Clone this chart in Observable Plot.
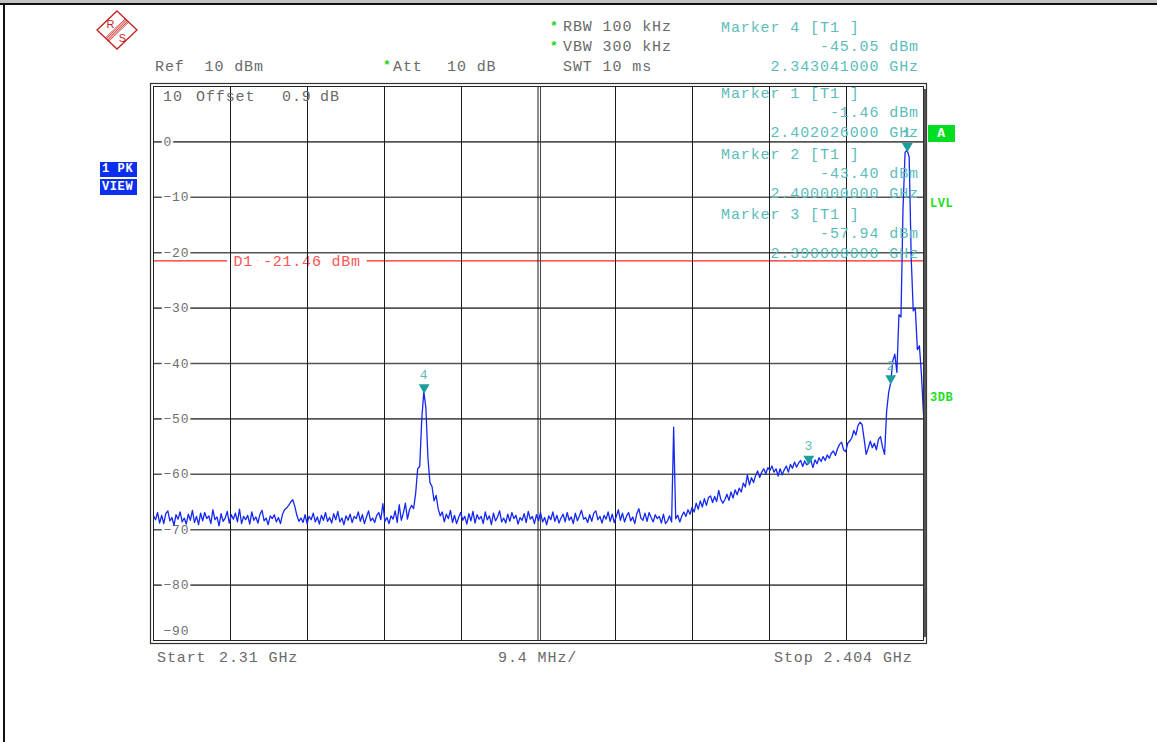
<!DOCTYPE html>
<html>
<head>
<meta charset="utf-8">
<script src="https://cdn.jsdelivr.net/npm/d3@7"></script>
<script src="https://cdn.jsdelivr.net/npm/@observablehq/plot@0.6"></script>
<style>
html,body{margin:0;padding:0;background:#fff;}
#page{position:relative;width:1157px;height:742px;overflow:hidden;background:#fff;font-family:"Liberation Mono",monospace;}
#chart{position:absolute;left:0;top:0;}
.t{position:absolute;white-space:pre;font-size:15px;letter-spacing:0.9px;color:#6a6a6a;line-height:16px;}
.m{color:#5cbcbc;}
.r{text-align:right;}
.star{position:absolute;color:#1fd21f;font-size:13px;font-weight:bold;line-height:13px;}
.box{position:absolute;color:#fff;font-weight:bold;font-size:12px;line-height:15px;white-space:pre;letter-spacing:0.6px;padding-left:2px;box-sizing:border-box;overflow:hidden;}
.grn{position:absolute;color:#22dd22;font-weight:bold;font-size:12px;line-height:14px;letter-spacing:0.5px;}
</style>
</head>
<body>
<div id="page">
  <div style="position:absolute;left:0;top:0;width:1157px;height:3px;background:#c4c4c4"></div>
  <div style="position:absolute;left:0;top:3px;width:1157px;height:2px;background:#111"></div>
  <div style="position:absolute;left:3px;top:3px;width:2px;height:739px;background:#111"></div>
  <div id="chart"></div>
  <div id="overlay"></div>
</div>
<script>
// ---------------- data ----------------
const startGHz = 2.31;
const stopGHz = 2.404;
const stepGHz = 0.00025;           // sweep point spacing
const refLevelDbm = 10;
const bottomDbm = -90;

// trace values (dBm), one per sweep point from startGHz
const traceDbm = [
 -67.5,-68.2,-66.9,-68.8,-67.4,-68.9,-67.1,-66.6,-68.4,-67.8,-69.2,-67.3,-68.1,-66.8,-68.6,-67.9,-69.0,-67.2,-68.3,-66.5,
 -68.7,-67.6,-69.1,-67.0,-68.4,-66.9,-68.0,-67.5,-68.9,-66.4,-68.2,-67.7,-69.3,-67.1,-68.5,-67.9,-66.7,-68.8,-67.3,-68.1,
 -67.0,-68.6,-66.3,-68.9,-67.6,-68.2,-67.4,-69.0,-66.8,-68.3,-67.7,-68.8,-67.2,-66.5,-68.4,-67.9,-69.1,-67.5,-68.0,-67.3,
 -68.6,-67.8,-68.9,-67.2,-66.4,-66.1,-65.6,-65.0,-64.6,-65.8,-67.4,-68.5,-67.9,-68.7,-67.3,-68.9,-67.6,-68.2,-67.0,-68.6,
 -67.7,-69.0,-67.4,-68.3,-66.9,-68.5,-67.8,-68.8,-67.1,-68.2,-66.7,-68.6,-67.9,-69.1,-67.5,-68.3,-67.2,-68.7,-67.6,-68.0,
 -66.8,-68.5,-67.3,-68.9,-67.7,-66.6,-68.4,-67.9,-68.7,-67.4,-66.9,-68.2,-65.3,-68.5,-67.8,-68.9,-67.5,-68.1,-66.6,-68.7,
 -65.5,-68.3,-67.0,-65.2,-68.1,-66.4,-65.6,-66.2,-63.5,-59.0,-58.6,-50.0,-45.05,-48.0,-57.0,-61.5,-62.2,-64.8,-63.8,-66.2,
 -67.5,-66.8,-68.6,-67.2,-68.0,-66.5,-68.7,-67.4,-68.9,-67.8,-66.9,-68.3,-67.6,-69.0,-67.1,-68.4,-66.7,-68.8,-67.3,-68.1,
 -67.6,-68.9,-66.8,-68.2,-67.5,-69.1,-67.0,-68.4,-67.7,-66.6,-68.6,-67.9,-68.8,-67.2,-68.5,-66.9,-68.0,-67.4,-69.0,-67.8,
 -68.3,-67.1,-68.7,-66.7,-68.1,-67.6,-68.9,-67.3,-68.4,-66.9,-68.6,-67.8,-69.1,-67.5,-68.2,-66.8,-68.5,-67.4,-68.8,-67.9,
 -67.2,-68.6,-66.9,-68.3,-67.7,-68.9,-67.0,-68.4,-67.5,-66.5,-68.1,-67.8,-68.7,-67.3,-68.5,-67.0,-66.6,-68.2,-67.6,-68.8,
 -67.4,-68.1,-66.8,-68.5,-67.2,-68.7,-67.6,-66.4,-68.3,-67.0,-68.6,-67.5,-66.9,-68.4,-67.7,-68.9,-67.1,-66.2,-67.9,-68.3,
 -67.0,-68.5,-66.9,-67.8,-68.6,-67.3,-68.0,-67.6,-68.8,-67.2,-68.9,-68.4,-67.5,-68.6,-51.5,
 -68.0,-67.4,-68.6,-67.5,-66.8,-67.6,-66.4,-67.2,-66.0,-66.8,-65.2,-66.3,-64.8,-65.9,-64.4,-65.6,-64.2,-63.9,-65.1,-64.0,
 -64.9,-62.9,-64.5,-65.2,-64.6,-63.6,-64.7,-63.2,-64.3,-62.8,-63.7,-62.5,-63.2,-61.6,-62.3,-60.1,-61.9,-60.6,-61.5,-60.2,
 -59.4,-60.6,-59.6,-59.0,-59.9,-58.8,-59.3,-58.5,-59.6,-59.0,-60.3,-59.0,-60.1,-59.2,-58.5,-59.6,-58.2,-58.9,-57.8,-58.7,
 -58.0,-57.5,-58.6,-57.6,-58.3,-57.94,-57.5,-58.8,-57.4,-58.1,-57.0,-57.7,-56.8,-57.5,-56.5,-57.1,-56.2,-55.8,-56.6,-55.4,
 -54.6,-54.2,-55.6,-55.9,-54.4,-54.0,-53.4,-52.1,-52.9,-51.2,-50.6,-51.0,-53.6,-56.4,-55.3,-54.0,-55.2,-54.4,-55.6,-53.7,
 -53.2,-55.1,-56.4,-48.6,-45.2,-43.4,-39.5,-38.3,-41.6,-31.2,-31.6,-12.0,-1.9,-1.46,-2.7,-21.0,-30.5,-30.0,-37.5,-36.8,
 -42.0,-49.2
];

// markers
const markerIds = ["1", "2", "3", "4"];
const markerFreqGHz = [2.402026, 2.400, 2.390, 2.343041];
const markerDbm = [-1.46, -43.40, -57.94, -45.05];
const markerFreqText = ["2.402026000 GHz", "2.400000000 GHz", "2.390000000 GHz", "2.343041000 GHz"];
const markerDbmText = ["-1.46 dBm", "-43.40 dBm", "-57.94 dBm", "-45.05 dBm"];

// display line
const d1Dbm = -21.46;
const d1Text = "D1 -21.46 dBm";

// grid / ticks
const xGridGHz = [2.3194, 2.3288, 2.3382, 2.3476, 2.3664, 2.3758, 2.3852, 2.3946];
const xCenterGHz = 2.357;
const yGridDbm = [0, -10, -20, -30, -40, -50, -60, -70, -80];
const yTickDbm = [0, -10, -20, -30, -40, -50, -60, -70, -80];
const yTickText = ["0", "\u221210", "\u221220", "\u221230", "\u221240", "\u221250", "\u221260", "\u221270", "\u221280"];
const yBottomText = "\u221290";

// ---------------- tables ----------------
const trace = traceDbm.map((v, i) => ({f: startGHz + i * stepGHz, v}));
const markers = markerIds.map((id, i) => ({id, f: markerFreqGHz[i], v: markerDbm[i]}));
const yLabels = yTickDbm.map((v, i) => ({v, t: yTickText[i]}));

const W = 1157, H = 742;
const plot = Plot.plot({
  width: W, height: H,
  marginLeft: 153, marginRight: 234, marginTop: 86, marginBottom: 102,
  x: {domain: [startGHz, stopGHz], axis: null},
  y: {domain: [bottomDbm, refLevelDbm], axis: null},
  style: {fontFamily: "'Liberation Mono', monospace", letterSpacing: "0.8px", background: "transparent", overflow: "visible"},
  marks: [
    Plot.ruleY([d1Dbm], {stroke: "#ff2020", strokeWidth: 1.2}),
    Plot.text([d1Text], {frameAnchor: "left", y: d1Dbm, text: d => d, dx: 80, textAnchor: "start", fill: "#ff5555", stroke: "white", strokeWidth: 15, strokeLinejoin: "round", fontSize: 15}),
    Plot.ruleY(yGridDbm, {stroke: "#555", strokeWidth: 1.6}),
    Plot.text(yLabels, {frameAnchor: "left", y: "v", text: "t", dx: 10, textAnchor: "start", fill: "#707070", stroke: "white", strokeWidth: 5, fontSize: 13}),
    Plot.text([yBottomText], {frameAnchor: "left", y: bottomDbm, text: d => d, dx: 10, dy: -10, textAnchor: "start", fill: "#707070", fontSize: 13}),
    Plot.ruleX(xGridGHz, {stroke: "#1a1a1a", strokeWidth: 1}),
    Plot.ruleX([xCenterGHz], {stroke: "#1a1a1a", strokeWidth: 1, dx: -0.5}),
    Plot.ruleX([xCenterGHz], {stroke: "#444", strokeWidth: 1, dx: 2}),
    Plot.line(trace, {x: "f", y: "v", stroke: "#1428f2", strokeWidth: 1.3}),
    Plot.dot(markers, {x: "f", y: "v", symbol: "triangle", rotate: 180, r: 4, fill: "#1a9e9e", stroke: "none", dy: -4}),
    Plot.text(markers, {x: "f", y: "v", text: "id", dy: -17, fill: "#5cbcbc", fontSize: 13}),
    Plot.frame({stroke: "#222", strokeWidth: 1}),
    Plot.frame({stroke: "#333", strokeWidth: 1.2, inset: -3}),
    Plot.ruleX([stopGHz], {stroke: "#555", strokeWidth: 2.5, dx: 1.5, y1: bottomDbm, y2: refLevelDbm, insetTop: -3, insetBottom: -3})
  ]
});
document.getElementById("chart").appendChild(plot);

// ---------------- annotations ----------------
const ov = document.getElementById("overlay");
function add(cls, text, css) {
  const d = document.createElement("div");
  d.className = cls;
  d.textContent = text;
  Object.assign(d.style, css);
  ov.appendChild(d);
  return d;
}
// header
add("star", "*", {left: "550px", top: "20px"});
add("t", "RBW 100 kHz", {left: "563px", top: "20px"});
add("star", "*", {left: "550px", top: "40px"});
add("t", "VBW 300 kHz", {left: "563px", top: "40px"});
add("t", "SWT 10 ms", {left: "563px", top: "60px"});
add("t", "Ref  10 dBm", {left: "155px", top: "60px"});
add("star", "*", {left: "383px", top: "59px"});
add("t", "Att", {left: "393px", top: "60px"});
add("t", "10 dB", {left: "447px", top: "60px"});
// offset line inside the frame
add("t", "10", {left: "163px", top: "90px"});
add("t", "Offset", {left: "196px", top: "90px"});
add("t", "0.9", {left: "282px", top: "90px"});
add("t", "dB", {left: "320px", top: "90px"});
// marker readouts: marker 4 above the frame, 1..3 inside
const readTop = {"4": 21, "1": 87, "2": 148, "3": 208};
markerIds.forEach((id, i) => {
  const t0 = readTop[id];
  add("t m", "Marker " + id + " [T1 ]", {left: "721px", top: t0 + "px"});
  add("t m r", markerDbmText[i], {right: (W - 919) + "px", top: (t0 + 19) + "px"});
  add("t m r", markerFreqText[i], {right: (W - 919) + "px", top: (t0 + 39) + "px"});
});
// footer
add("t", "Start", {left: "157px", top: "651px"});
add("t", "2.31 GHz", {left: "219px", top: "651px"});
add("t", "9.4 MHz/", {left: "498px", top: "651px"});
add("t", "Stop 2.404 GHz", {left: "774px", top: "651px"});
// side boxes
add("box", "1 PK", {left: "100px", top: "162px", width: "37px", height: "15px", background: "#0a2ff0"});
add("box", "VIEW", {left: "100px", top: "179px", width: "37px", height: "16px", background: "#0a2ff0", lineHeight: "16px"});
add("box", "A", {left: "928px", top: "125px", width: "27px", height: "17px", background: "#00dd22", textAlign: "center", lineHeight: "17px", fontSize: "13px", paddingLeft: "0px"});
add("grn", "LVL", {left: "930px", top: "197px"});
add("grn", "3DB", {left: "930px", top: "391px"});

// R&S logo
const logo = d3.select(ov).append("svg")
  .attr("width", 46).attr("height", 46)
  .style("position", "absolute").style("left", "95px").style("top", "8px");
const g = logo.append("g").attr("transform", "translate(22,22)");
g.append("polygon").attr("points", "0,-19 20,0 0,19 -20,0")
  .attr("fill", "none").attr("stroke", "#c81e1e").attr("stroke-width", 1.3);
[-2.4, -1.2, 0, 1.2, 2.4].forEach(k => {
  g.append("line")
    .attr("x1", 10 + k * 0.725).attr("y1", -9.5 + k * 0.689)
    .attr("x2", -10 + k * 0.725).attr("y2", 9.5 + k * 0.689)
    .attr("stroke", "#c81e1e").attr("stroke-width", 0.8);
});
g.append("text").attr("x", -6.5).attr("y", -2).attr("text-anchor", "middle")
  .attr("font-family", "Liberation Sans, sans-serif").attr("font-size", 11).attr("fill", "#c81e1e").text("R");
g.append("text").attr("x", 5.5).attr("y", 11.5).attr("text-anchor", "middle")
  .attr("font-family", "Liberation Sans, sans-serif").attr("font-size", 11).attr("fill", "#c81e1e").text("S");
</script>
</body>
</html>
